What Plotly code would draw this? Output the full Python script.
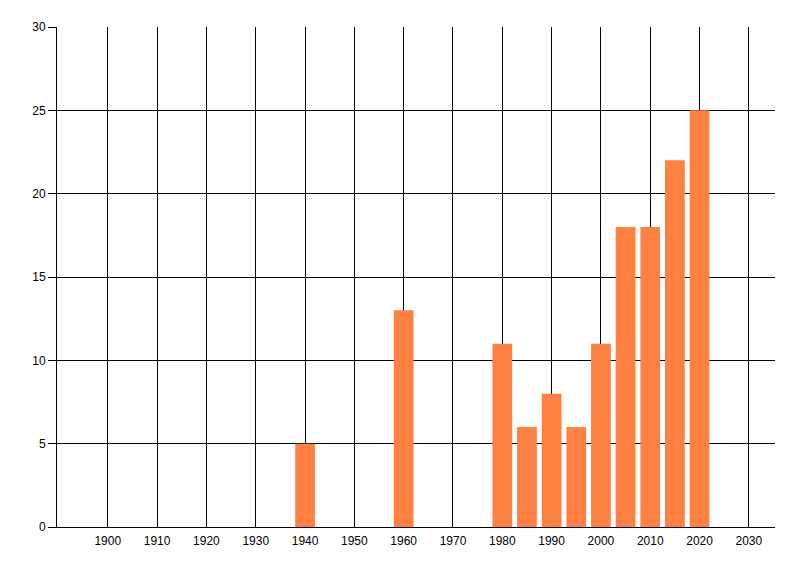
import plotly.graph_objects as go

years = [1940, 1960, 1980, 1985, 1990, 1995, 2000, 2005, 2010, 2015, 2020]
counts = [5, 13, 11, 6, 8, 6, 11, 18, 18, 22, 25]

x_ticks = list(range(1900, 2031, 10))
y_ticks = [0, 5, 10, 15, 20, 25, 30]

fig = go.Figure()
fig.add_trace(go.Bar(x=years, y=counts, width=4,
                     marker_color='#FF8142', marker_line_width=0))

# page body has an 8px margin, so margins are shifted by 8
fig.update_layout(
    width=800, height=576,
    margin=dict(l=49, r=33, t=19, b=57),
    paper_bgcolor='white', plot_bgcolor='white',
    font=dict(family='Liberation Sans', size=12, color='#000000'),
    showlegend=False,
)
fig.update_xaxes(range=[1889.7, 2035.3], tickvals=x_ticks,
                 showgrid=True, gridcolor='black', gridwidth=1,
                 showline=True, linecolor='black', linewidth=1,
                 ticks='', ticklabelstandoff=3, zeroline=False)
fig.update_yaxes(range=[0, 30], tickvals=y_ticks,
                 showgrid=True, gridcolor='black', gridwidth=1,
                 showline=True, linecolor='black', linewidth=1,
                 ticks='outside', ticklen=8, tickcolor='black',
                 zeroline=False)

fig.write_html("out.html")
